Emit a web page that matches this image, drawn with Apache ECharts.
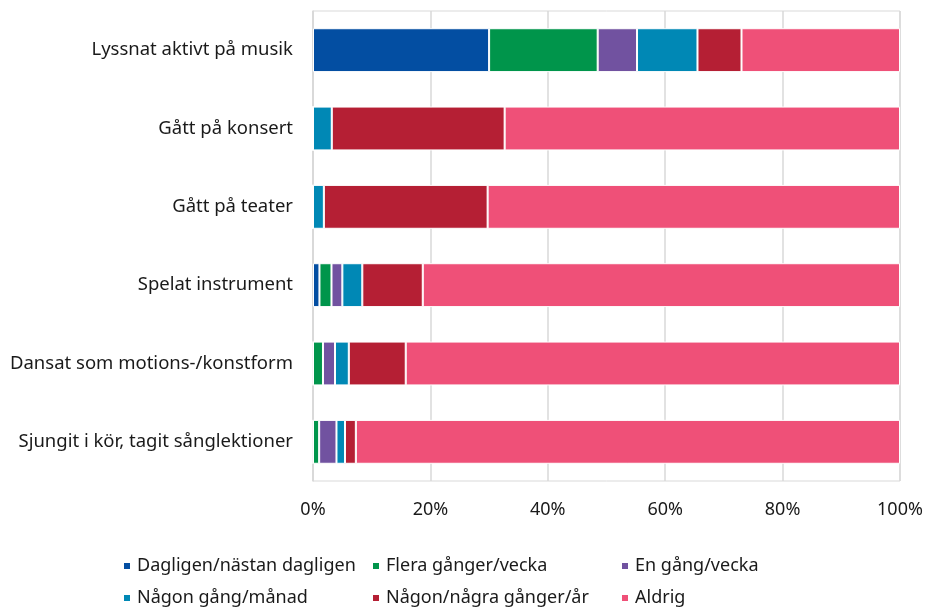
<!DOCTYPE html>
<html>
<head>
    <meta charset="utf-8">
    <title>Kulturvanor</title>
    <script src="https://cdn.jsdelivr.net/npm/echarts@6/dist/echarts.min.js"></script>
</head>
<body style="margin:0;background:#fff;">
<div id="chart" style="width: 926px;height:615px;"></div>
<script type="text/javascript">
    // kategorier uppifrån och ned
    var categories = ['Lyssnat aktivt på musik', 'Gått på konsert', 'Gått på teater',
        'Spelat instrument', 'Dansat som motions-/konstform', 'Sjungit i kör, tagit sånglektioner'];

    // andelar i procent, en per kategori
    var dagligen = [30.0, 0, 0, 1.1, 0, 0];
    var fleraVecka = [18.5, 0, 0, 2.05, 1.7, 1.05];
    var enVecka = [6.7, 0, 0, 1.85, 2.05, 2.95];
    var manad = [10.3, 3.2, 1.85, 3.4, 2.35, 1.45];
    var ar = [7.5, 29.45, 27.9, 10.3, 9.7, 1.85];
    var aldrig = [27.0, 67.35, 70.25, 81.3, 84.2, 92.7];

    var xTicks = [0, 20, 40, 60, 80, 100];

    var names = ['Dagligen/nästan dagligen', 'Flera gånger/vecka', 'En gång/vecka',
        'Någon gång/månad', 'Någon/några gånger/år', 'Aldrig'];
    var values = [dagligen, fleraVecka, enVecka, manad, ar, aldrig];
    var colors = ['#034EA2', '#00954B', '#7152A0', '#0088B5', '#B51F34', '#EF5078'];

    var font = 'Noto Sans';
    var txt = '#1a1a1a';

    var myChart = echarts.init(document.getElementById('chart'));

    var series = names.map(function (n, i) {
        return {
            name: n,
            type: 'bar',
            stack: 'total',
            barCategoryGap: '44%',
            data: values[i],
            itemStyle: { color: colors[i], borderColor: '#fff', borderWidth: 1 }
        };
    });

    function legendCol(items, left) {
        return {
            orient: 'vertical',
            left: left,
            top: 552,
            itemWidth: 8,
            itemHeight: 8,
            itemGap: 14,
            icon: 'rect',
            selectedMode: false,
            data: items,
            textStyle: { fontFamily: font, fontSize: 18, color: txt, padding: [0, 0, 0, 1] }
        };
    }

    var option = {
        animation: false,
        color: colors,
        grid: {
            left: 313, right: 26, top: 11, bottom: 134,
            show: true, borderColor: '#d9d9d9', borderWidth: 1
        },
        legend: [
            legendCol([names[0], names[3]], 117),
            legendCol([names[1], names[4]], 366),
            legendCol([names[2], names[5]], 615)
        ],
        xAxis: {
            type: 'value',
            min: xTicks[0],
            max: xTicks[xTicks.length - 1],
            interval: 20,
            axisLine: { show: false },
            axisTick: { show: false },
            splitLine: { lineStyle: { color: '#d9d9d9', width: 1.5 } },
            axisLabel: {
                formatter: '{value}%',
                margin: 20,
                fontFamily: font, fontSize: 18, color: txt
            }
        },
        yAxis: {
            type: 'category',
            inverse: true,
            data: categories,
            axisLine: { lineStyle: { color: '#d9d9d9', width: 1.5 } },
            axisTick: { length: 6, lineStyle: { color: '#d9d9d9', width: 1.5 } },
            axisLabel: { margin: 20, fontFamily: font, fontSize: 18.5, color: txt }
        },
        series: series
    };

    myChart.setOption(option);
</script>
</body>
</html>
